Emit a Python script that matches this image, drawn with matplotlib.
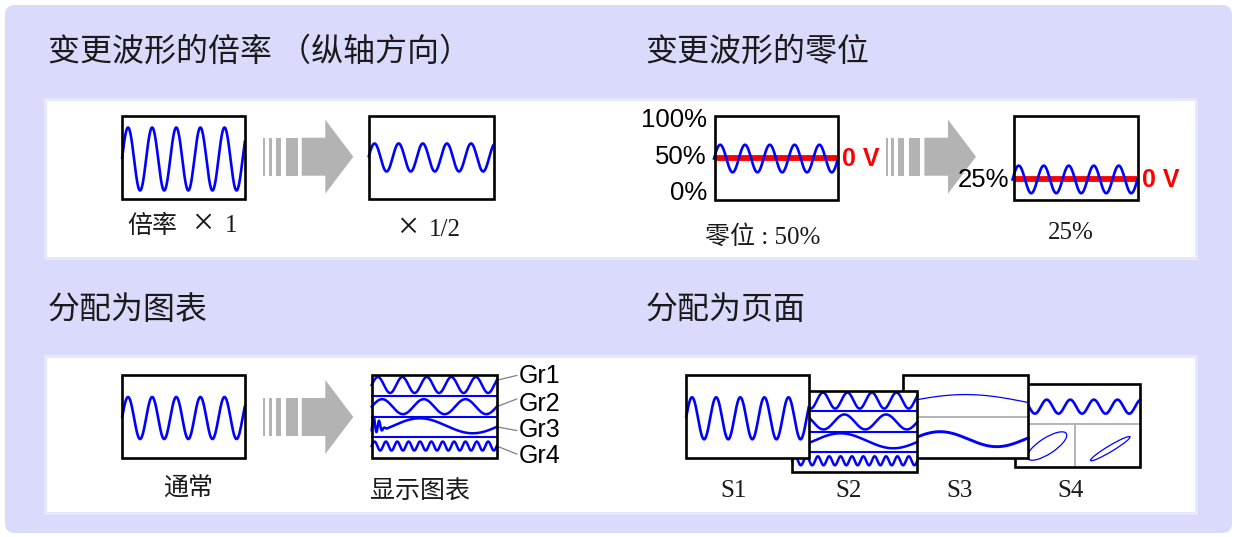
import matplotlib
matplotlib.use("Agg")
import matplotlib.pyplot as plt
from matplotlib.patches import FancyBboxPatch, Rectangle, Polygon, Ellipse
import numpy as np

# ---- texts and waveform data ----
titles = ["变更波形的倍率 （纵轴方向）", "变更波形的零位", "分配为图表", "分配为页面"]
zoom_prefix = "倍率"
zoom_factors = ["1", "1/2"]
zoom_amps = [31.5, 14.0]            # wave amplitude (px) at x1 and x1/2
pos_ticks = ["100%", "50%", "0%"]
pos_labels = ["零位 : 50%", "25%"]
zero_levels = [0.50, 0.25]          # zero position, fraction of screen height
zero_text = "0 V"
normal_labels = ["通常", "显示图表"]
graph_names = ["Gr1", "Gr2", "Gr3", "Gr4"]
graph_cycles = [5.1, 3.0, 1.18, 11.0]
graph_amps = [8.0, 7.5, 7.5, 4.5]
graph_phase = [0.0, 0.0, -1.28, 0.0]
gr3_glitch = [16.0, 10.0, 5.5]      # height, length, spacing of start spikes (px)
page_names = ["S1", "S2", "S3", "S4"]
main_cycles = 5.1
s3_cycles = [0.5, 1.107]
s3_amps = [8.0, 7.5]
s3_phase = [0.0, -0.5]
s4_cycles, s4_amp, s4_phase = 5.3, 7.0, -0.59
xy_ellipses = [(0.256, 0.75, 46, 16, -33), (0.762, 0.782, 46, 6, -31)]

LAV = "#DADAFC"
LAV_EDGE = "#E6E6FD"
BLUE = "#0000FF"
RED = "#FF0000"
ARROW = "#B3B3B3"
GRID = "#B4B4B4"
INK = "#1A1A1A"
CJK = ["Noto Sans CJK SC", "DejaVu Sans"]
SERIF = ["Liberation Serif", "Noto Sans CJK SC"]
SANS = ["Liberation Sans", "DejaVu Sans"]
LAB_FS = 18

W, H = 1234, 537
fig = plt.figure(figsize=(W / 100, H / 100), dpi=100)
ax = fig.add_axes([0, 0, 1, 1])
ax.set_xlim(0, W)
ax.set_ylim(H, 0)
ax.axis("off")


def sine(x0, x1, yc, amp, cycles, phase=0.0):
    t = np.linspace(0, 1, 600)
    return x0 + t * (x1 - x0), yc - amp * np.sin(2 * np.pi * cycles * t + phase)


def box(x0, y0, w, h, z):
    ax.add_patch(Rectangle((x0, y0), w, h, fc="white", ec="none", zorder=z))
    ax.add_patch(Rectangle((x0, y0), w, h, fc="none", ec="black", lw=1.9, zorder=z + 0.9))


def arrow(x0, yc):
    for dx, bw in [(0, 2.0), (5.4, 3.0), (12.4, 5.6), (22.7, 11.7)]:
        ax.add_patch(Rectangle((x0 + dx, yc - 19), bw, 38, fc=ARROW, ec="none", zorder=2))
    pts = [(x0 + 38.4, yc - 19), (x0 + 62, yc - 19), (x0 + 62, yc - 37), (x0 + 90, yc),
           (x0 + 62, yc + 37), (x0 + 62, yc + 19), (x0 + 38.4, yc + 19)]
    ax.add_patch(Polygon(pts, closed=True, fc=ARROW, ec="none", zorder=2))


def wave_box(x0, y0, w, h, amp, cycles, z, yc=None):
    box(x0, y0, w, h, z)
    if yc is None:
        yc = y0 + h / 2 + 1.5
    x, y = sine(x0, x0 + w, yc, amp, cycles)
    ax.plot(x, y, color=BLUE, lw=1.9, zorder=z + 0.5, solid_capstyle="butt")


def graphs_box(x0, y0, w, h, z):
    box(x0, y0, w, h, z)
    for s in [0.25, 0.505, 0.755]:
        ax.plot([x0, x0 + w], [y0 + s * h] * 2, color=BLUE, lw=1.5, zorder=z + 0.5)
    centres = [0.121, 0.383, 0.614, 0.859]
    ends = []
    for i in range(4):
        x, y = sine(x0, x0 + w, y0 + centres[i] * h, graph_amps[i], graph_cycles[i], graph_phase[i])
        if i == 2:
            rel = x - x0
            y = y - gr3_glitch[0] * np.exp(-(rel / gr3_glitch[1]) ** 3) * np.cos(np.pi * (rel - 2) / gr3_glitch[2]) ** 2
        ax.plot(x, y, color=BLUE, lw=1.8, zorder=z + 0.5)
        ends.append((x[-1], y[-1]))
    return ends


def label(x, y, s, ha="center"):
    ax.text(x, y, s, family=SERIF, fontsize=LAB_FS, color=INK, ha=ha, va="center")


# ---- background ----
ax.add_patch(FancyBboxPatch((5, 5), 1227, 528, boxstyle="round,pad=0,rounding_size=10",
                            fc=LAV, ec="none", zorder=0))
for y0, y1 in [(97, 259), (354, 514)]:
    ax.add_patch(Rectangle((44.5, y0 + 1.5), 1151, y1 - y0 - 3, fc="white", ec=LAV_EDGE,
                           lw=2.2, zorder=0.5))

for i, (tx, ty) in enumerate([(48, 52), (645.5, 52), (48, 310), (645.5, 310)]):
    ax.text(tx, ty, titles[i], family=CJK, fontsize=23, color=INK, ha="left", va="center")

# ---- zoom (vertical) ----
wave_box(122, 115.5, 123, 83.5, zoom_amps[0], main_cycles, 3, yc=159)
arrow(263.3, 156.7)
wave_box(368.5, 115.5, 125.5, 83.5, zoom_amps[1], 5.2, 3, yc=157.5)
label(152, 226, zoom_prefix)
for xm, xf, yy, f in [(202.5, 225, 225, zoom_factors[0]), (408, 429, 229, zoom_factors[1])]:
    ax.text(xm, yy, "×", family=["Liberation Serif"], fontsize=27, color=INK, ha="center",
            va="center", fontweight="light")
    label(xf, yy + 1, f, ha="left")

# ---- zero position ----
for k, (bx, bw) in enumerate([(715, 123), (1013.5, 124)]):
    top, h = 116, 83.5
    yz = top + h - zero_levels[k] * h
    box(bx, top, bw, h, 3)
    ax.plot([bx, bx + bw], [yz, yz], color=RED, lw=4.2, zorder=3.4, solid_capstyle="butt")
    x, y = sine(bx - 1, bx + bw, yz + 0.8, 13.8, 5.0)
    ax.plot(x, y, color=BLUE, lw=1.9, zorder=3.5)
    ax.text(bx + bw + 4, yz + 1, zero_text, family=SANS, fontsize=18, fontweight="bold",
            color=RED, ha="left", va="center")
    if k == 0:
        for lab, yy in zip(pos_ticks, [120, 157, 193]):
            ax.text(707, yy, lab, family=SANS, fontsize=18.5, color="black", ha="right", va="center")
    else:
        ax.text(1009, yz + 1.5, "25%", family=SANS, fontsize=18.5, color="black", ha="right", va="center")
arrow(886, 156.7)
label(763, 237, pos_labels[0])
label(1071, 233, pos_labels[1])

# ---- allocate to graphs ----
wave_box(122, 375, 123, 83, 21, main_cycles, 3, yc=418)
arrow(263.3, 417)
ends = graphs_box(371.7, 375, 125, 82.7, 3)
for (ex, ey), ly, name, ny in zip(ends, [375.5, 399, 430.5, 454], graph_names, [376, 404, 430, 456]):
    ax.plot([ex, 516.7], [ey, ly], color="#808080", lw=0.9, zorder=3)
    ax.text(519, ny, name, family=SANS, fontsize=18, color="black", ha="left", va="center")
label(188, 489, normal_labels[0])
label(420, 492, normal_labels[1])

# ---- allocate to pages ----
# S4 (bottom of stack)
x4, y4, w4, h4 = 1015, 384, 125, 82.7
box(x4, y4, w4, h4, 10)
x, y = sine(x4, x4 + w4, y4 + 0.274 * h4, s4_amp, s4_cycles, s4_phase)
ax.plot(x, y, color=BLUE, lw=1.9, zorder=10.5)
ax.plot([x4, x4 + w4], [y4 + 0.487 * h4] * 2, color=GRID, lw=1.4, zorder=10.4)
ax.plot([x4 + 0.48 * w4] * 2, [y4 + 0.487 * h4, y4 + h4], color=GRID, lw=1.4, zorder=10.4)
for cx, cy, ew, eh, ang in xy_ellipses:
    ax.add_patch(Ellipse((x4 + cx * w4, y4 + cy * h4), ew, eh, angle=ang, fc="none",
                         ec=BLUE, lw=0.9, zorder=10.5))
# S3
x3, y3, w3, h3 = 902.7, 375, 125.6, 82.7
box(x3, y3, w3, h3, 20)
x, y = sine(x3, x3 + w3, y3 + 0.333 * h3, s3_amps[0], s3_cycles[0], s3_phase[0])
ax.plot(x, y, color=BLUE, lw=0.9, zorder=20.5)
ax.plot([x3, x3 + w3], [y3 + 0.511 * h3] * 2, color=GRID, lw=1.4, zorder=20.4)
x, y = sine(x3, x3 + w3, y3 + 0.776 * h3, s3_amps[1], s3_cycles[1], s3_phase[1])
ax.plot(x, y, color=BLUE, lw=2.1, zorder=20.5)
# S2
graphs_box(792.3, 390.7, 125, 81.6, 30)
# S1 (top)
wave_box(686, 375, 123, 82.7, 21, main_cycles, 40, yc=418.3)
for name, px in zip(page_names, [734, 849, 960, 1071]):
    label(px, 491, name)

fig.savefig("out.png", dpi=100)
